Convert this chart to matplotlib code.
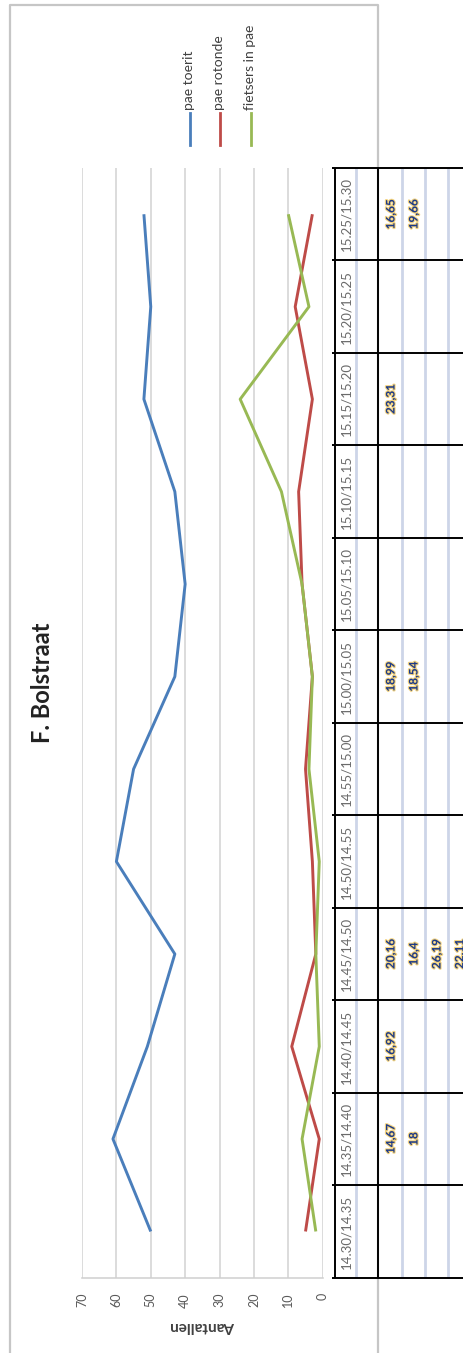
import numpy as np
import matplotlib
matplotlib.use("Agg")
import matplotlib.pyplot as plt
import matplotlib.patheffects as pe

plt.rcParams['font.family'] = ['Lato', 'DejaVu Sans']

# Time slots (5-minute intervals)
categories = ["14.30/14.35", "14.35/14.40", "14.40/14.45", "14.45/14.50",
              "14.50/14.55", "14.55/15.00", "15.00/15.05", "15.05/15.10",
              "15.10/15.15", "15.15/15.20", "15.20/15.25", "15.25/15.30"]

# Counts per time slot
pae_toerit = [50, 61, 51, 43, 60, 55, 43, 40, 43, 52, 50, 52]
pae_rotonde = [5, 1, 9, 2, 3, 5, 3, 6, 7, 3, 8, 3]
fietsers_in_pae = [2, 6, 1, 2, 1, 4, 3, 6, 12, 24, 4, 10]

series_names = ["pae toerit", "pae rotonde", "fietsers in pae"]
series_colors = ["#4a7ebb", "#be4b48", "#98b954"]

value_ticks = [0, 10, 20, 30, 40, 50, 60, 70]

# Measured times noted in the sheet below the chart, one list per row
table_row1 = [None, "14,67", "16,92", "20,16", None, None, "18,99", None, None, "23,31", None, "16,65"]
table_row2 = [None, "18", None, "16,4", None, None, "18,54", None, None, None, None, "19,66"]
table_row3 = [None, None, None, "26,19", None, None, None, None, None, None, None, None]
table_row4 = [None, None, None, "22,11", None, None, None, None, None, None, None, None]

W, H = 464, 1353
fig = plt.figure(figsize=(W / 100, H / 100), dpi=100)
fig.patch.set_facecolor("white")

# Background layer in pixel coordinates: chart frame, title, legend
ov = fig.add_axes([0, 0, 1, 1], zorder=-1)
ov.set_xlim(0, W)
ov.set_ylim(H, 0)
ov.axis("off")
ov.plot([10, 10, 378, 378], [H + 10, 5, 5, H + 10], color="#c6c6c6", lw=1.6,
        solid_joinstyle="round")
ov.text(43, 683, "F. Bolstraat", rotation=90, ha="center", va="center",
        fontsize=17, fontweight="bold", color="#222222")

legend_x = [190, 220, 251]
for lx, name, col in zip(legend_x, series_names, series_colors):
    ov.plot([lx, lx], [113, 145], color=col, lw=2)
    ov.text(lx - 1, 110, name, rotation=90, ha="center", va="bottom",
            fontsize=10, color="#404040")

# Plot area: values run right-to-left, time slots bottom-to-top
left, right, top, bottom = 82, 322.7, 168, 1277.7
ax = fig.add_axes([left / W, 1 - bottom / H, (right - left) / W, (bottom - top) / H])
ax.set_facecolor("none")
ypos = np.arange(len(categories))
ax.set_xlim(70, 0)
ax.set_ylim(-0.5, len(categories) - 0.5)
ax.set_xticks(value_ticks)
ax.set_yticks([])
ax.grid(axis="x", color="#d2d2d2", lw=1.1)
ax.set_axisbelow(True)
for s in ["top", "left", "right"]:
    ax.spines[s].set_visible(False)
ax.spines["bottom"].set_color("#cfcfcf")
ax.spines["bottom"].set_linewidth(1.1)
ax.tick_params(axis="x", length=0, pad=11, labelrotation=90, labelsize=9,
               labelcolor="#595959")
ax.set_xlabel("Aantallen", rotation=180, fontsize=11, fontweight="bold",
              color="#404040", labelpad=8)

for vals, col in zip([pae_toerit, pae_rotonde, fietsers_in_pae], series_colors):
    ax.plot(vals, ypos, color=col, lw=2.1, solid_joinstyle="round",
            solid_capstyle="butt")

# Sheet table to the right, sharing the time-slot positions
tax = fig.add_axes([334 / W, 1 - bottom / H, (W - 334) / W, (bottom - top) / H])
tax.set_facecolor("white")
tax.set_xlim(334, W)
tax.set_ylim(-0.5, len(categories) - 0.5)
tax.axis("off")
tax.patch.set_visible(True)
tax.vlines([356, 402, 425, 448], -0.5, len(categories) - 0.5, color="#cdd5e8",
           lw=2, zorder=1)
tax.vlines([335, 378], -0.5, len(categories) - 0.5, color="black", lw=1.4,
           zorder=3, clip_on=False)
tax.hlines(np.arange(-0.5, len(categories)), 332, W, color="black", lw=1.4,
           zorder=3, clip_on=False)

for i, cat in enumerate(categories):
    tax.text(346, i, cat, rotation=90, ha="center", va="center", fontsize=9.5,
             color="#6a6a6a", zorder=4)

halo = [pe.withStroke(linewidth=1.6, foreground="#f0c860", alpha=0.8)]
for xc, row in zip([391, 414, 437, 460], [table_row1, table_row2, table_row3, table_row4]):
    for i, v in enumerate(row):
        if v:
            tax.text(xc, i, v, rotation=90, ha="center", va="center",
                     fontsize=8.5, fontweight="bold", color="#1c3a8a",
                     path_effects=halo, zorder=4, clip_on=False)

fig.savefig("out.png", dpi=100, facecolor="white")
